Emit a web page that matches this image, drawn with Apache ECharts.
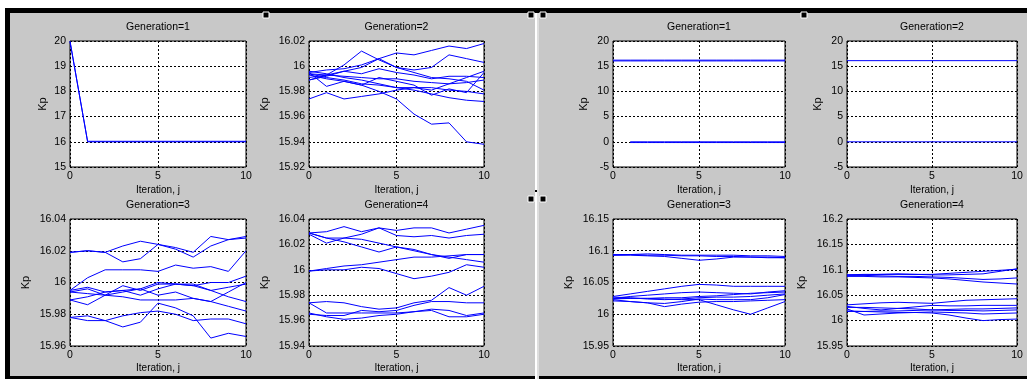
<!DOCTYPE html>
<html>
<head>
<meta charset="utf-8">
<script src="https://cdn.jsdelivr.net/npm/echarts@6/dist/echarts.min.js"></script>
<style>
html, body { margin: 0; padding: 0; background: #fff; }
#main { width: 1027px; height: 379px; }
</style>
</head>
<body>
<div id="main"></div>
<script>
// iterations on the x axis
var iterations = [0, 1, 2, 3, 4, 5, 6, 7, 8, 9, 10];
var xTicks = [0, 5, 10];

// left figure, Kp of each particle per iteration
var leftGen1 = [
    [20, 16, 16, 16, 16, 16, 16, 16, 16, 16, 16],
    [19.97, 16.02, 16.02, 16.02, 16.02, 16.02, 16.02, 16.02, 16.02, 16.02, 16.02]
];
var leftGen2 = [
    [15.995, 15.997, 15.998, 16.001, 16.006, 16.0105, 16.009, 16.0125, 16.016, 16.014, 16.018],
    [15.989, 15.993, 16.001, 16.012, 16.005, 15.999, 15.997, 15.999, 16.009, 16.006, 16.003],
    [15.993, 15.990, 15.988, 15.985, 15.980, 15.974, 15.962, 15.954, 15.955, 15.940, 15.938],
    [15.974, 15.979, 15.974, 15.976, 15.978, 15.981, 15.983, 15.981, 15.986, 15.991, 15.996],
    [15.991, 15.993, 15.996, 15.999, 16.006, 15.999, 15.995, 15.991, 15.990, 15.988, 15.981],
    [15.994, 15.991, 15.989, 15.986, 15.985, 15.983, 15.981, 15.978, 15.975, 15.973, 15.972],
    [15.995, 15.984, 15.988, 15.985, 15.991, 15.988, 15.985, 15.977, 15.982, 15.979, 15.995],
    [15.994, 15.993, 15.992, 15.991, 15.990, 15.990, 15.988, 15.987, 15.986, 15.987, 15.989],
    [15.989, 15.992, 15.996, 15.994, 15.998, 15.995, 15.993, 15.990, 15.992, 15.992, 15.991],
    [15.996, 15.994, 15.991, 15.989, 15.986, 15.983, 15.983, 15.983, 15.981, 15.980, 15.978]
];
var leftGen3 = [
    [16.019, 16.020, 16.019, 16.023, 16.026, 16.024, 16.022, 16.019, 16.029, 16.027, 16.029],
    [16.019, 16.020, 16.019, 16.013, 16.015, 16.024, 16.021, 16.016, 16.023, 16.027, 16.028],
    [15.995, 16.003, 16.008, 16.008, 16.008, 16.007, 16.011, 16.009, 16.010, 16.007, 16.020],
    [15.989, 15.986, 15.992, 15.998, 15.995, 15.999, 15.999, 15.998, 16.000, 16.000, 16.004],
    [15.995, 15.997, 15.994, 15.995, 15.992, 15.996, 15.999, 15.998, 15.995, 15.991, 15.988],
    [15.994, 15.993, 15.992, 15.991, 15.989, 15.989, 15.989, 15.990, 15.988, 15.985, 15.982],
    [15.989, 15.991, 15.994, 15.995, 15.996, 16.000, 15.999, 15.999, 15.995, 15.997, 15.999],
    [15.978, 15.979, 15.976, 15.979, 15.981, 15.982, 15.980, 15.976, 15.977, 15.977, 15.974],
    [15.978, 15.976, 15.976, 15.972, 15.975, 15.987, 15.984, 15.979, 15.965, 15.968, 15.966],
    [15.994, 15.996, 15.992, 15.994, 15.996, 15.992, 15.994, 15.990, 15.988, 15.994, 16.000]
];
var leftGen4 = [
    [16.029, 16.030, 16.034, 16.030, 16.033, 16.031, 16.033, 16.033, 16.029, 16.032, 16.035],
    [16.028, 16.021, 16.025, 16.028, 16.033, 16.027, 16.026, 16.027, 16.025, 16.027, 16.028],
    [16.029, 16.025, 16.022, 16.018, 16.014, 16.018, 16.015, 16.012, 16.009, 16.012, 16.012],
    [16.029, 16.025, 16.025, 16.024, 16.021, 16.018, 16.016, 16.012, 16.010, 16.008, 16.006],
    [15.999, 16.001, 16.003, 16.004, 16.006, 16.008, 16.010, 16.010, 16.011, 16.012, 16.012],
    [15.999, 16.000, 16.000, 16.002, 16.001, 15.997, 15.993, 15.995, 15.998, 16.004, 16.002],
    [15.974, 15.975, 15.974, 15.971, 15.969, 15.970, 15.974, 15.976, 15.986, 15.980, 15.987],
    [15.974, 15.966, 15.966, 15.966, 15.966, 15.966, 15.967, 15.969, 15.968, 15.964, 15.966],
    [15.966, 15.963, 15.961, 15.962, 15.964, 15.965, 15.967, 15.968, 15.963, 15.963, 15.965],
    [15.965, 15.964, 15.964, 15.968, 15.967, 15.968, 15.972, 15.975, 15.975, 15.974, 15.974]
];

// right figure
var rightGen1 = [
    [16.05, 16.05, 16.05, 16.05, 16.05, 16.05, 16.05, 16.05, 16.05, 16.05, 16.05],
    [16.2, 16.2, 16.2, 16.2, 16.2, 16.2, 16.2, 16.2, 16.2, 16.2, 16.2],
    [null, 0, 0, 0, 0, 0, 0, 0, 0, 0, 0],
    [null, -0.15, -0.15, -0.15, -0.15, -0.15, -0.15, -0.15, -0.15, -0.15, -0.15]
];
var rightGen2 = [
    [16.1, 16.1, 16.1, 16.1, 16.1, 16.1, 16.1, 16.1, 16.1, 16.1, 16.1],
    [0, 0, 0, 0, 0, 0, 0, 0, 0, 0, 0]
];
var rightGen3 = [
    [16.094, 16.094, 16.093, 16.093, 16.092, 16.092, 16.091, 16.091, 16.090, 16.090, 16.089],
    [16.093, 16.093, 16.092, 16.091, 16.088, 16.085, 16.087, 16.090, 16.090, 16.089, 16.089],
    [16.093, 16.094, 16.095, 16.094, 16.093, 16.093, 16.093, 16.093, 16.092, 16.092, 16.091],
    [16.028, 16.032, 16.036, 16.040, 16.044, 16.047, 16.046, 16.044, 16.044, 16.044, 16.044],
    [16.025, 16.028, 16.030, 16.032, 16.034, 16.035, 16.034, 16.033, 16.032, 16.035, 16.037],
    [16.023, 16.020, 16.018, 16.017, 16.020, 16.024, 16.023, 16.023, 16.023, 16.026, 16.031],
    [16.025, 16.025, 16.025, 16.024, 16.023, 16.023, 16.015, 16.007, 16.000, 16.010, 16.020],
    [16.027, 16.026, 16.024, 16.023, 16.024, 16.026, 16.027, 16.027, 16.028, 16.030, 16.032],
    [16.021, 16.020, 16.018, 16.012, 16.016, 16.019, 16.020, 16.020, 16.021, 16.022, 16.023],
    [16.024, 16.025, 16.025, 16.026, 16.026, 16.028, 16.029, 16.031, 16.033, 16.034, 16.035]
];
var rightGen4 = [
    [16.090, 16.090, 16.091, 16.091, 16.091, 16.091, 16.093, 16.095, 16.097, 16.099, 16.101],
    [16.090, 16.091, 16.091, 16.092, 16.091, 16.090, 16.090, 16.091, 16.092, 16.097, 16.102],
    [16.089, 16.089, 16.088, 16.087, 16.087, 16.086, 16.085, 16.083, 16.081, 16.082, 16.084],
    [16.087, 16.087, 16.086, 16.086, 16.085, 16.084, 16.082, 16.079, 16.076, 16.074, 16.072],
    [16.031, 16.033, 16.035, 16.036, 16.035, 16.034, 16.037, 16.040, 16.041, 16.042, 16.043],
    [16.028, 16.024, 16.021, 16.024, 16.027, 16.030, 16.029, 16.029, 16.030, 16.030, 16.030],
    [16.026, 16.026, 16.025, 16.024, 16.023, 16.021, 16.022, 16.023, 16.023, 16.024, 16.025],
    [16.023, 16.011, 16.013, 16.015, 16.016, 16.017, 16.016, 16.015, 16.013, 16.014, 16.015],
    [16.018, 16.018, 16.019, 16.019, 16.020, 16.021, 16.020, 16.020, 16.019, 16.020, 16.021],
    [16.019, 16.018, 16.017, 16.016, 16.016, 16.015, 16.011, 16.005, 16.000, 16.002, 16.003]
];

// y tick labels of each subplot
var ticksGen1L = [15, 16, 17, 18, 19, 20];
var ticksGen2L = [15.92, 15.94, 15.96, 15.98, 16, 16.02];
var ticksGen3L = [15.96, 15.98, 16, 16.02, 16.04];
var ticksGen4L = [15.94, 15.96, 15.98, 16, 16.02, 16.04];
var ticksGen12R = [-5, 0, 5, 10, 15, 20];
var ticksGen3R = [15.95, 16, 16.05, 16.1, 16.15];
var ticksGen4R = [15.95, 16, 16.05, 16.1, 16.15, 16.2];

var FONT = 'Liberation Sans';

var plots = [
    {title: 'Generation=1', lines: leftGen1, ticks: ticksGen1L, left: 70, top: 41, width: 176, height: 126, ygap: 22, xgap: 18},
    {title: 'Generation=2', lines: leftGen2, ticks: ticksGen2L, left: 309, top: 41, width: 175, height: 126, ygap: 39, xgap: 18},
    {title: 'Generation=3', lines: leftGen3, ticks: ticksGen3L, left: 70, top: 219, width: 176, height: 127, ygap: 39, xgap: 17},
    {title: 'Generation=4', lines: leftGen4, ticks: ticksGen4L, left: 309, top: 219, width: 175, height: 127, ygap: 39, xgap: 17},
    {title: 'Generation=1', lines: rightGen1, ticks: ticksGen12R, left: 613, top: 41, width: 172, height: 126, ygap: 24, xgap: 18},
    {title: 'Generation=2', lines: rightGen2, ticks: ticksGen12R, left: 847, top: 41, width: 170, height: 126, ygap: 24, xgap: 18},
    {title: 'Generation=3', lines: rightGen3, ticks: ticksGen3R, left: 613, top: 219, width: 172, height: 127, ygap: 39, xgap: 17},
    {title: 'Generation=4', lines: rightGen4, ticks: ticksGen4R, left: 847, top: 219, width: 170, height: 127, ygap: 40, xgap: 17}
];

var grids = [], xAxes = [], yAxes = [], titles = [], series = [];
var gridDash = [2, 2];

plots.forEach(function (p, i) {
    grids.push({
        left: p.left, top: p.top, width: p.width, height: p.height,
        show: true, backgroundColor: '#fff', borderColor: '#000', borderWidth: 1
    });
    titles.push({
        text: p.title, left: p.left + p.width / 2, top: p.top - 19, textAlign: 'center', padding: 0,
        textStyle: {fontFamily: FONT, fontSize: 10.5, fontWeight: 'normal', color: '#000'}
    });
    xAxes.push({
        gridIndex: i, type: 'value', min: xTicks[0], max: xTicks[xTicks.length - 1], interval: xTicks[1] - xTicks[0],
        name: 'Iteration, j', nameLocation: 'middle', nameGap: p.xgap,
        nameTextStyle: {fontFamily: FONT, fontSize: 10, color: '#000'},
        axisLine: {show: false}, axisTick: {show: false},
        axisLabel: {fontFamily: FONT, fontSize: 10.5, color: '#000', margin: 4},
        splitLine: {show: true, lineStyle: {color: '#000', width: 1, type: gridDash}}
    });
    var t = p.ticks;
    yAxes.push({
        gridIndex: i, type: 'value', min: t[0], max: t[t.length - 1], interval: +(t[1] - t[0]).toFixed(4),
        name: 'Kp', nameLocation: 'middle', nameGap: p.ygap,
        nameTextStyle: {fontFamily: FONT, fontSize: 11, color: '#000'},
        axisLine: {show: false}, axisTick: {show: false},
        axisLabel: {
            fontFamily: FONT, fontSize: 10.5, color: '#000', margin: 4,
            formatter: function (v) { return String(+v.toFixed(3)); }
        },
        splitLine: {show: true, lineStyle: {color: '#000', width: 1, type: gridDash}}
    });
    p.lines.forEach(function (line) {
        series.push({
            type: 'line', xAxisIndex: i, yAxisIndex: i,
            data: iterations.map(function (x, k) { return [x, line[k] === null ? '-' : line[k]]; }),
            symbol: 'none', silent: true, animation: false,
            lineStyle: {color: '#0000ff', width: 1}
        });
    });
});

// figure window frame drawn around the two figures
var frame = [
    {type: 'rect', shape: {x: 5, y: 8, width: 1022, height: 371}, style: {fill: '#000'}},
    {type: 'rect', shape: {x: 10, y: 13, width: 525, height: 363}, style: {fill: '#c8c8c8'}},
    {type: 'rect', shape: {x: 535, y: 13, width: 2, height: 366}, style: {fill: '#fff'}},
    {type: 'rect', shape: {x: 537, y: 13, width: 2, height: 366}, style: {fill: '#dedede'}},
    {type: 'rect', shape: {x: 539, y: 13, width: 488, height: 363}, style: {fill: '#c8c8c8'}}
];
frame.forEach(function (f) { f.z = -10; f.silent = true; });
var handles = [[263, 12], [528, 12], [540, 12], [801, 12], [528, 196], [540, 196]];
handles.forEach(function (h) {
    frame.push({type: 'rect', z: 100, silent: true, shape: {x: h[0], y: h[1], width: 6, height: 6},
        style: {fill: '#000', stroke: '#fff', lineWidth: 1}});
});
frame.push({type: 'rect', z: 100, silent: true, shape: {x: 535, y: 190, width: 2, height: 2}, style: {fill: '#000'}});

var myChart = echarts.init(document.getElementById('main'));
myChart.setOption({
    animation: false,
    backgroundColor: '#fff',
    title: titles,
    grid: grids,
    xAxis: xAxes,
    yAxis: yAxes,
    series: series,
    graphic: {elements: frame}
});
</script>
</body>
</html>
